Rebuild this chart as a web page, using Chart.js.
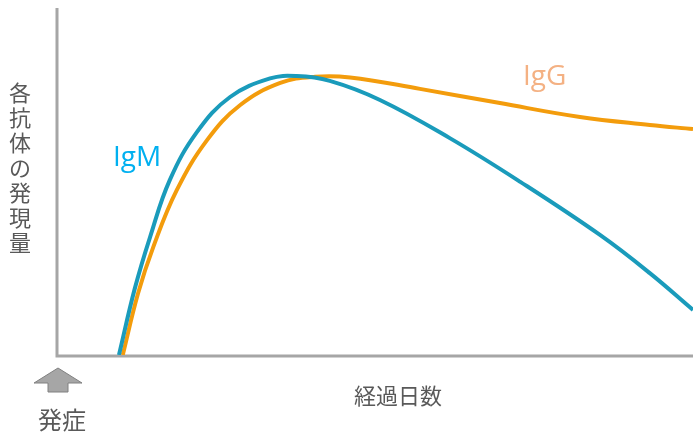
<!DOCTYPE html>
<html lang="ja">
<head>
    <meta charset="UTF-8">
    <title>抗体の発現量</title>
    <style>
        html, body { margin: 0; padding: 0; background: #fff; }
        #wrap { width: 693px; height: 434px; position: relative; }
    </style>
    <script src="https://cdn.jsdelivr.net/npm/chart.js"></script>
</head>
<body>
<div id="wrap"><canvas id="grafico" width="693" height="434"></canvas></div>
<script>
    // valores (x: dias relativos 0-100, y: nivel 0-100)
    const igmDias = [9.6, 12.1, 14.5, 17.6, 21.9, 27.1, 33.4, 37.6, 42.8, 50.7, 61.7, 72.8, 85.35, 93.2, 100];
    const igmNivel = [0, 19.2, 34.0, 50.4, 64.3, 74.35, 79.7, 80.4, 79.0, 73.5, 62.5, 49.9, 34.6, 23.6, 13.0];
    const iggDias = [10.2, 12.6, 15.0, 18.7, 23.5, 28.7, 35.0, 40.5, 46.0, 57.0, 69.6, 82.2, 93.2, 100];
    const iggNivel = [0, 17.7, 31.1, 47.5, 62.0, 72.05, 78.4, 80.2, 80.0, 76.7, 72.6, 68.6, 66.3, 65.1];

    const tituloY = '各抗体の発現量';
    const tituloX = '経過日数';
    const textoInicio = '発症';

    const gris = '#a6a6a6';
    const grisTexto = '#595959';
    const fuenteJP = '"Noto Sans CJK JP", "Noto Sans", sans-serif';

    function puntos(xs, ys) {
        return xs.map((x, i) => ({ x: x, y: ys[i] }));
    }

    const decoracion = {
        id: 'decoracion',
        beforeDatasetsDraw(chart) {
            const ctx = chart.ctx;
            const a = chart.chartArea;
            ctx.save();
            // ejes
            ctx.strokeStyle = gris;
            ctx.lineWidth = 3;
            ctx.beginPath();
            ctx.moveTo(a.left - 1, a.top);
            ctx.lineTo(a.left - 1, a.bottom + 1);
            ctx.lineTo(a.right, a.bottom + 1);
            ctx.stroke();
            ctx.restore();
        },
        afterDatasetsDraw(chart) {
            const ctx = chart.ctx;
            const a = chart.chartArea;
            ctx.save();
            ctx.fillStyle = grisTexto;
            ctx.textAlign = 'center';
            ctx.textBaseline = 'middle';
            ctx.font = '22px ' + fuenteJP;
            // titulo vertical, caracteres apilados
            [...tituloY].forEach((c, i) => {
                ctx.fillText(c, 20, 93 + i * 25);
            });
            ctx.fillText(tituloX, 398, 396);
            ctx.font = '24px ' + fuenteJP;
            ctx.fillText(textoInicio, 62, 420);

            // flecha de inicio
            const cx = a.left;
            ctx.beginPath();
            ctx.moveTo(cx, 368);
            ctx.lineTo(cx + 24, 383);
            ctx.lineTo(cx + 10, 383);
            ctx.lineTo(cx + 10, 392);
            ctx.lineTo(cx - 10, 392);
            ctx.lineTo(cx - 10, 383);
            ctx.lineTo(cx - 24, 383);
            ctx.closePath();
            ctx.fillStyle = gris;
            ctx.fill();
            ctx.strokeStyle = '#808080';
            ctx.lineWidth = 1;
            ctx.stroke();

            // etiquetas de series
            ctx.textAlign = 'left';
            ctx.textBaseline = 'alphabetic';
            ctx.font = '28px "Open Sans", sans-serif';
            ctx.fillStyle = '#00b0f0';
            ctx.fillText('IgM', 113, 166);
            ctx.fillStyle = '#f4b183';
            ctx.fillText('IgG', 523, 85);
            ctx.restore();
        }
    };

    const grafico = new Chart(document.getElementById('grafico'), {
        type: 'scatter',
        data: {
            datasets: [{
                label: 'IgM',
                data: puntos(igmDias, igmNivel),
                showLine: true,
                borderColor: '#1a9bbb',
                borderWidth: 4,
                pointRadius: 0,
                tension: 0.4,
                order: 0
            }, {
                label: 'IgG',
                data: puntos(iggDias, iggNivel),
                showLine: true,
                borderColor: '#f39c0c',
                borderWidth: 4,
                pointRadius: 0,
                tension: 0.4,
                order: 1
            }]
        },
        options: {
            responsive: false,
            animation: false,
            layout: { padding: { left: 58, top: 8, right: 0, bottom: 79 } },
            plugins: {
                legend: { display: false },
                tooltip: { enabled: false }
            },
            scales: {
                x: { type: 'linear', min: 0, max: 100, display: false },
                y: { type: 'linear', min: 0, max: 100, display: false }
            }
        },
        plugins: [decoracion]
    });
</script>
</body>
</html>
